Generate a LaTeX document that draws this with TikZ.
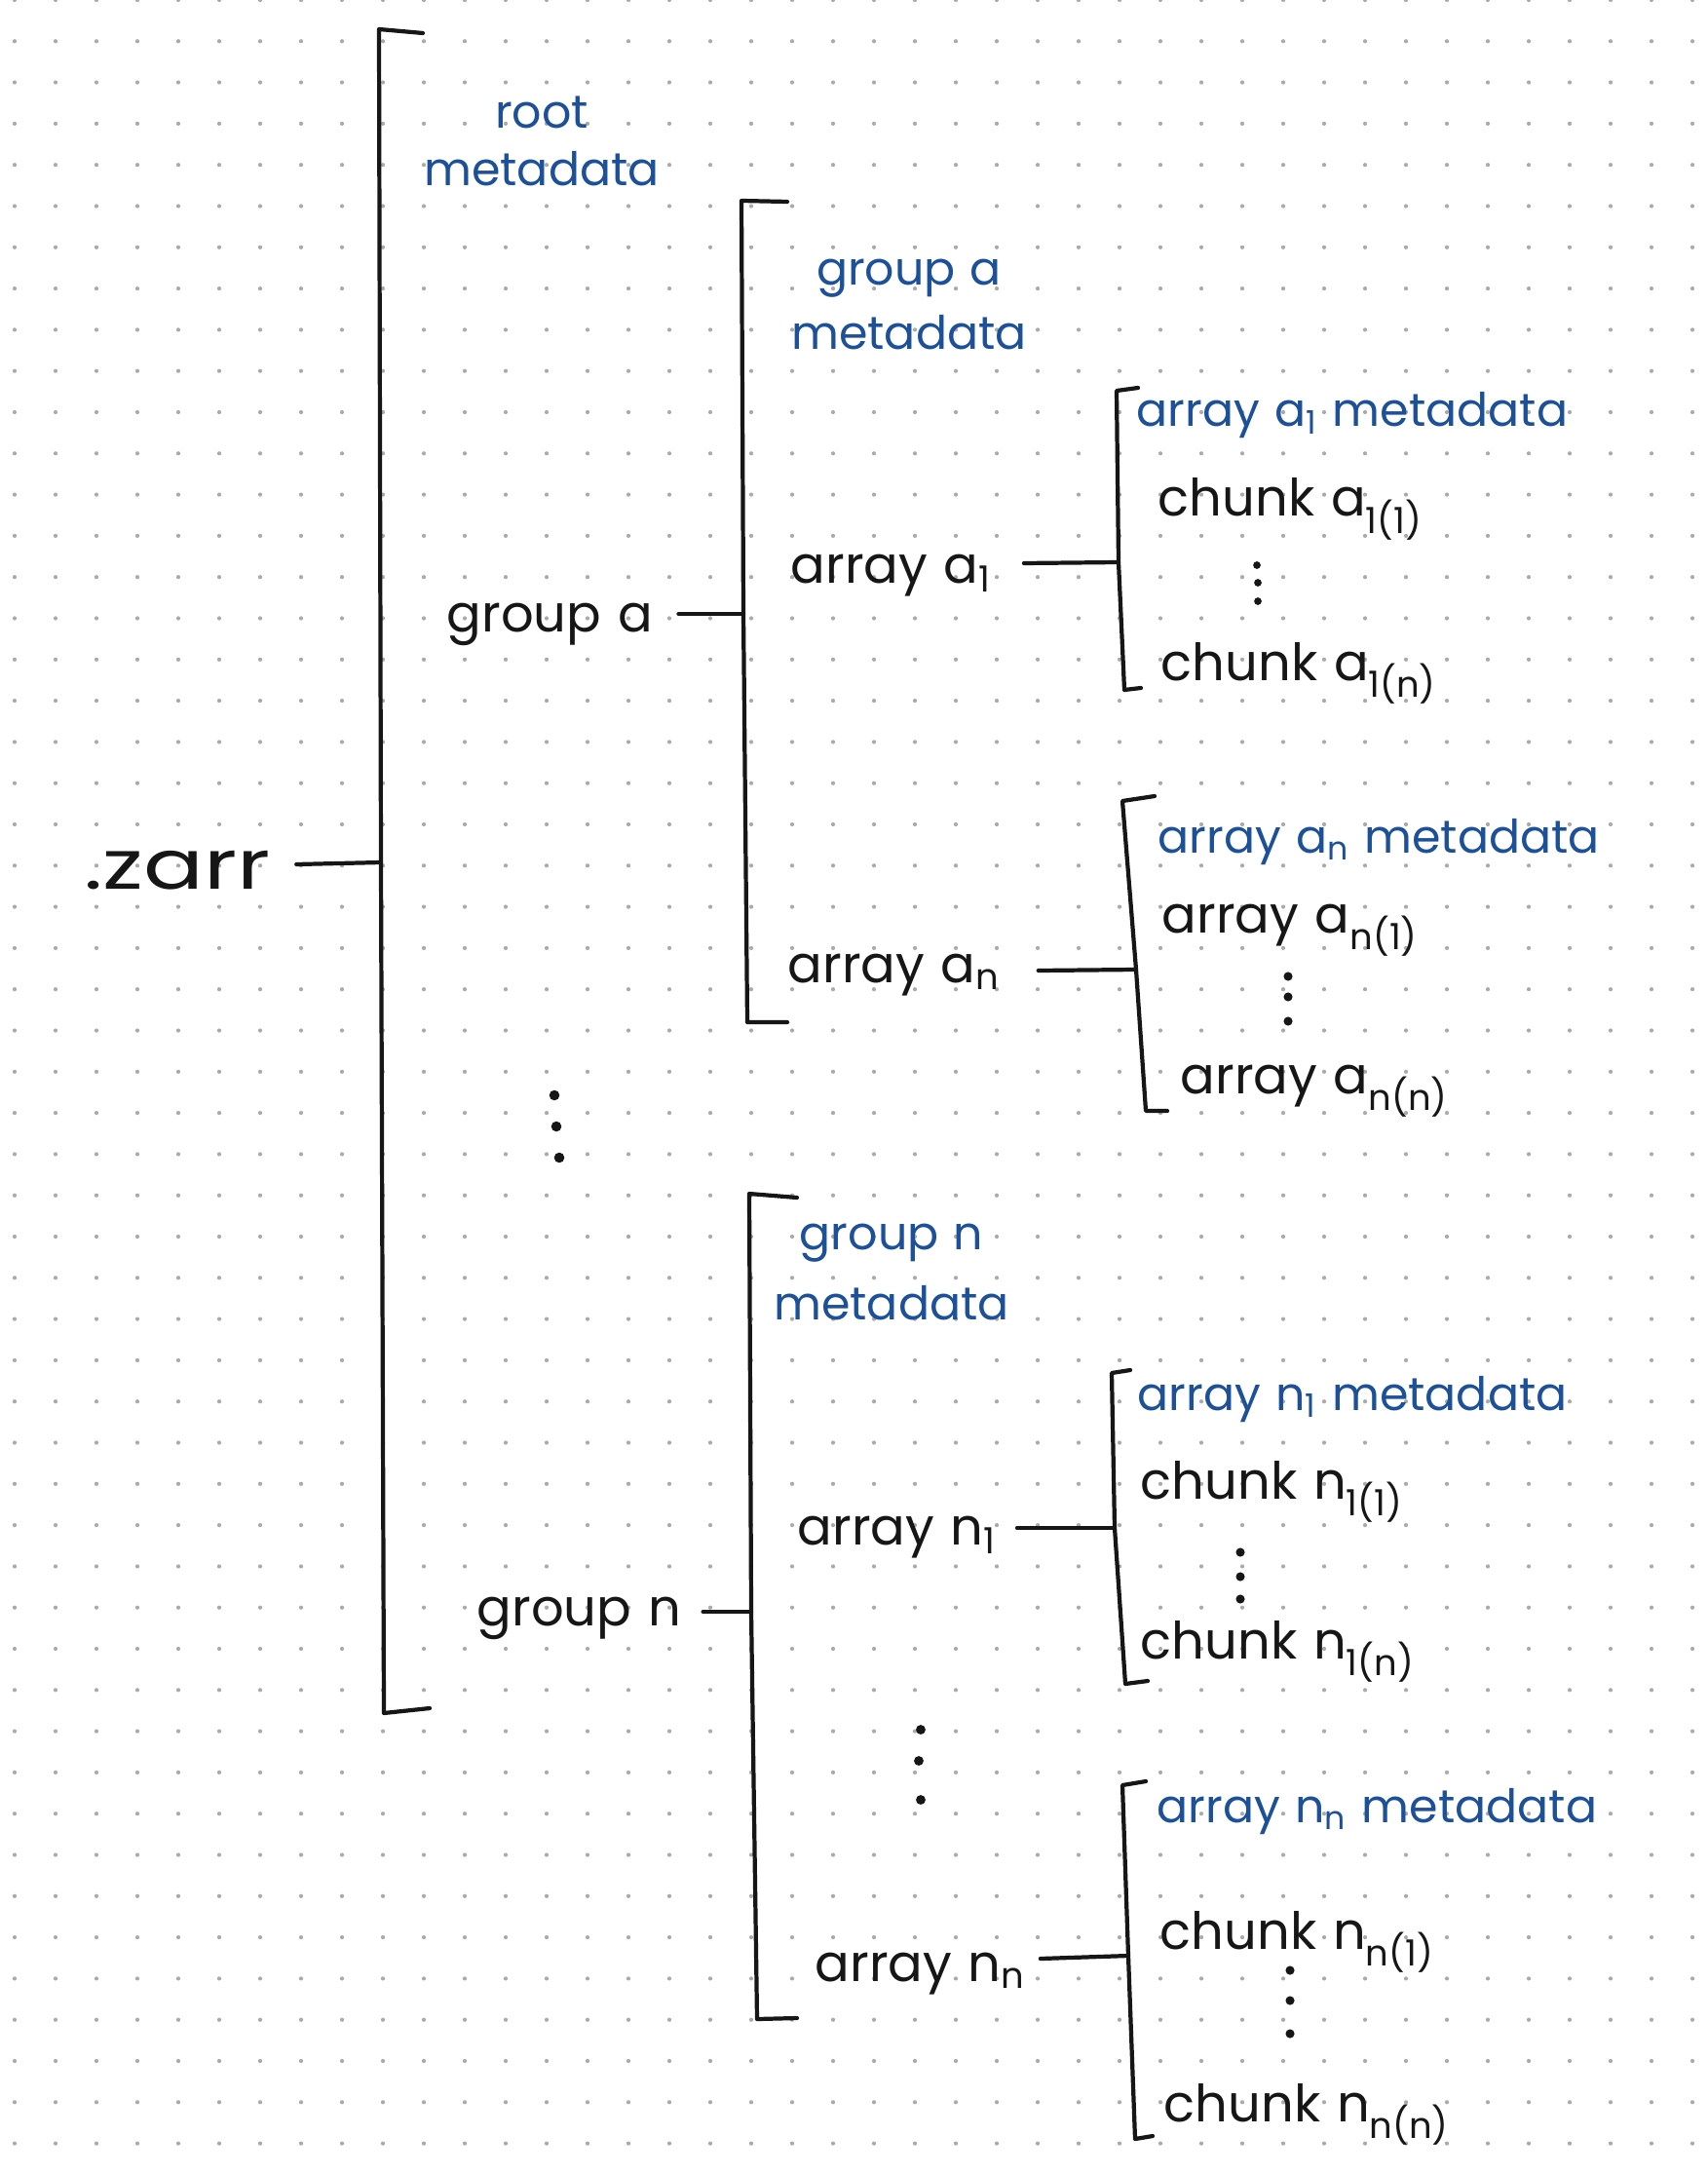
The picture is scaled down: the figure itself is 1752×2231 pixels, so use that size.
\documentclass[tikz,border=0pt]{standalone}
\usepackage{fontspec}
\setmainfont{Poppins}
\newfontfamily\hand[WordSpace=1.1]{Poppins}
\newfontfamily\handnote[WordSpace=1.2]{Poppins}
\newfontfamily\handwide[FakeStretch=1.3]{Poppins}
\usetikzlibrary{calc}

\definecolor{penblack}{RGB}{22,22,22}
\definecolor{penblue}{RGB}{28,80,152}
\definecolor{griddot}{RGB}{170,170,170}

\newcommand{\sub}[1]{\textsubscript{#1}}
% two centred lines, first baseline is the node baseline
\newcommand{\twolines}[3]{\begin{tabular}[t]{@{}c@{}}#1\\[#3]#2\end{tabular}}

\tikzset{
  ink/.style={text=penblack, font=\hand\fontsize{15}{18}\selectfont,
              inner sep=0pt, anchor=base west},
  bigink/.style={ink, font=\handwide\fontsize{20}{24}\selectfont},
  note/.style={text=penblue, font=\handnote\fontsize{13.5}{16}\selectfont,
               inner sep=0pt, anchor=base west},
  notepair/.style={note, anchor=base},
  stroke/.style={draw=penblack, line width=1.2pt, line cap=round, line join=round},
}

\begin{document}
\begin{tikzpicture}[x=0.01cm, y=-0.01cm]
  % paper
  \fill[white] (0,0) rectangle (1752,2231);
  \useasboundingbox (0,0) rectangle (1752,2231);

  % dot grid
  \foreach \i in {0,...,41}
    \foreach \j in {0,...,52}
      \fill[griddot] ({15+42*\i},{42.3*\j}) circle (0.6pt);

  % ---------- labels ----------
  \node[bigink] (zarr) at (86,912) {.zarr};
  \node[notepair] (rootmeta) at (556,132) {\twolines{root}{metadata}{0.5pt}};

  \node[ink] (groupa) at (458,648) {group a};
  \node[notepair] (groupameta) at (933,293) {\twolines{group a}{metadata}{2.5pt}};

  \node[ink] (arraya1) at (811,598) {array a\sub{1}};
  \node[note] (a1meta) at (1166,438) {array a\sub{1} metadata};
  \node[ink] (a1c1) at (1188,530) {chunk a\sub{1(1)}};
  \node[ink] (a1cn) at (1191,698) {chunk a\sub{1(n)}};

  \node[ink] (arrayan) at (808,1008) {array a\sub{n}};
  \node[note] (anmeta) at (1188,875) {array a\sub{n} metadata};
  \node[ink] (an1) at (1192,957) {array a\sub{n(1)}};
  \node[ink] (ann) at (1211,1122) {array a\sub{n(n)}};

  \node[ink] (groupn) at (489,1668) {group n};
  \node[notepair] (groupnmeta) at (915,1282) {\twolines{group n}{metadata}{4.7pt}};

  \node[ink] (arrayn1) at (818,1585) {array n\sub{1}};
  \node[note] (n1meta) at (1167,1447) {array n\sub{1} metadata};
  \node[ink] (n1c1) at (1170,1538) {chunk n\sub{1(1)}};
  \node[ink] (n1cn) at (1170,1702) {chunk n\sub{1(n)}};

  \node[ink] (arraynn) at (836,2033) {array n\sub{n}};
  \node[note] (nnmeta) at (1187,1870) {array n\sub{n} metadata};
  \node[ink] (nnc1) at (1190,2000) {chunk n\sub{n(1)}};
  \node[ink] (nncn) at (1194,2177) {chunk n\sub{n(n)}};

  % ---------- brackets (junction points named) ----------
  \coordinate (jmain) at (391,885);
  \coordinate (jga)   at (763,630);
  \coordinate (ja1)   at (1148,577);
  \coordinate (jan)   at (1166,995);
  \coordinate (jgn)   at (771,1654);
  \coordinate (jn1)   at (1144,1568);
  \coordinate (jnn)   at (1158,2007);

  \draw[stroke] (434,34) -- (389,30) -- (jmain) -- (394,1758) -- (441,1753);
  \draw[stroke] (808,207) -- (761,206) -- (jga) -- (767,1049) -- (808,1049);
  \draw[stroke] (1168,398) -- (1146,401) -- (ja1) -- (1154,708) -- (1171,706);
  \draw[stroke] (1185,817) -- (1152,822) -- (jan) -- (1176,1140) -- (1198,1140);
  \draw[stroke] (818,1229) -- (769,1225) -- (jgn) -- (777,2072) -- (818,2071);
  \draw[stroke] (1160,1406) -- (1141,1409) -- (jn1) -- (1155,1728) -- (1178,1725);
  \draw[stroke] (1176,1828) -- (1152,1832) -- (jnn) -- (1165,2195) -- (1183,2192);

  % ---------- connectors ----------
  \draw[stroke] ($(zarr.east |- jmain)+(26,2)$) -- (jmain);
  \draw[stroke] ($(groupa.east |- jga)+(26,0)$) -- (jga);
  \draw[stroke] ($(arraya1.east |- ja1)+(32,1)$) -- (ja1);
  \draw[stroke] ($(arrayan.east |- jan)+(38,1)$) -- (jan);
  \draw[stroke] ($(groupn.east |- jgn)+(22,0)$) -- (jgn);
  \draw[stroke] ($(arrayn1.east |- jn1)+(20,0)$) -- (jn1);
  \draw[stroke] ($(arraynn.east |- jnn)+(14,3)$) -- (jnn);

  % ---------- vertical ellipses ----------
  \foreach \p in {(569,1124),(571,1156),(574,1188)}
    \fill[penblack] \p circle (1.5pt);
  \foreach \p in {(1290,580),(1291,598),(1291,617)}
    \fill[penblack] \p circle (1.1pt);
  \foreach \p in {(1322,1002),(1322,1023),(1322,1048)}
    \fill[penblack] \p circle (1.3pt);
  \foreach \p in {(1273,1593),(1273,1618),(1273,1641)}
    \fill[penblack] \p circle (1.3pt);
  \foreach \p in {(945,1775),(943,1807),(945,1847)}
    \fill[penblack] \p circle (1.4pt);
  \foreach \p in {(1324,2022),(1324,2053),(1324,2087)}
    \fill[penblack] \p circle (1.3pt);
\end{tikzpicture}
\end{document}
